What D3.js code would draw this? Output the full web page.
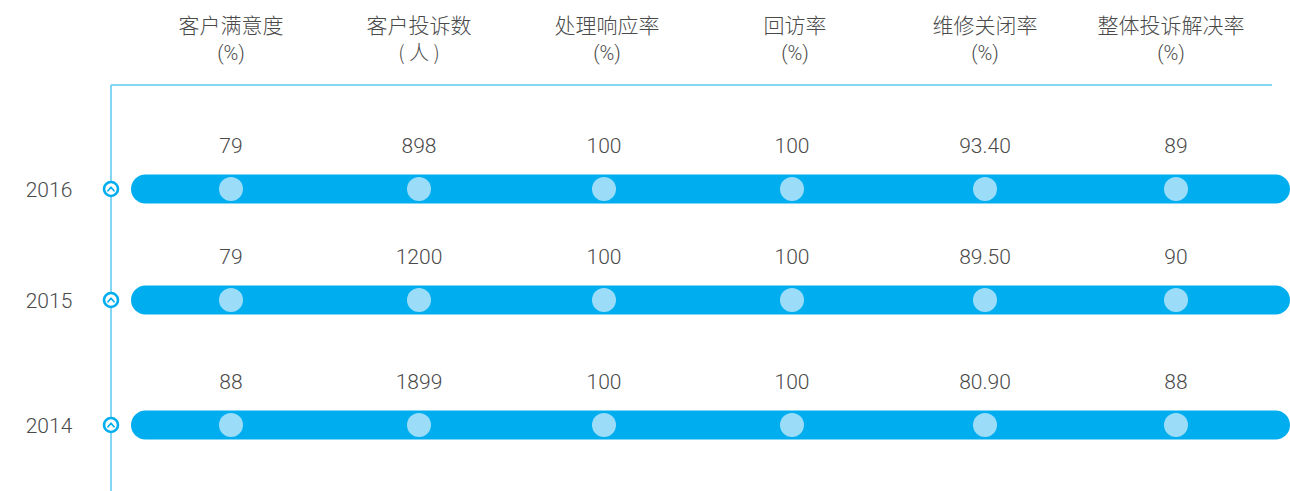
<!DOCTYPE html>
<html>
<head>
<meta charset="utf-8">
<script src="https://cdn.jsdelivr.net/npm/d3@7"></script>
<style>
  html, body { margin: 0; padding: 0; background: #fff; }
  svg { display: block; }
  text { font-family: Roboto, "Noto Sans CJK SC", sans-serif; font-weight: 300; fill: #4a4a4a; }
  text.cjk { font-family: "Noto Sans CJK SC", sans-serif; }
</style>
</head>
<body>
<svg id="chart" width="1290" height="491"></svg>
<script>
// Service indicators per year
const metrics = ["客户满意度", "客户投诉数", "处理响应率", "回访率", "维修关闭率", "整体投诉解决率"];
const units = ["(%)", "( 人 )", "(%)", "(%)", "(%)", "(%)"];
const years = ["2016", "2015", "2014"];
const values2016 = ["79", "898", "100", "100", "93.40", "89"];
const values2015 = ["79", "1200", "100", "100", "89.50", "90"];
const values2014 = ["88", "1899", "100", "100", "80.90", "88"];
const valuesByYear = [values2016, values2015, values2014];

const W = 1290, H = 491;
const blue = "#00AEEF", light = "#9BDDF8", lineBlue = "#5CC8F2";
const svg = d3.select("#chart");

// Column positions for each metric
const x = d3.scaleOrdinal().domain(metrics).range([231, 419, 604, 792, 985, 1176]);
// Header columns sit a touch off the dot columns on the right
const xHead = d3.scaleOrdinal().domain(metrics).range([231, 419, 607, 795, 985, 1171]);
// Row positions for each year (rows are not evenly spaced)
const y = d3.scaleOrdinal().domain(years).range([189, 300, 425]);

const axisX = 111, headerLineY = 85;
const barLeft = 131, barRight = W, barH = 29;

// Frame lines
svg.append("line")
  .attr("x1", axisX).attr("x2", axisX)
  .attr("y1", headerLineY).attr("y2", H)
  .attr("stroke", lineBlue).attr("stroke-width", 1.5);
svg.append("line")
  .attr("x1", axisX).attr("x2", 1272)
  .attr("y1", headerLineY).attr("y2", headerLineY)
  .attr("stroke", lineBlue).attr("stroke-width", 1.5);

// Column headers
const head = svg.append("g").selectAll("g").data(metrics).join("g")
  .attr("transform", d => `translate(${xHead(d)},0)`);
head.append("text").attr("class", "cjk").attr("y", 33).attr("text-anchor", "middle")
  .attr("font-size", 21).text(d => d);
head.append("text").attr("y", 60).attr("text-anchor", "middle")
  .attr("class", (d, i) => units[i].includes("人") ? "cjk" : null)
  .attr("font-size", 20).text((d, i) => units[i]);

// Rows
const rows = svg.append("g").selectAll("g").data(years).join("g")
  .attr("transform", d => `translate(0,${y(d)})`);

rows.append("rect")
  .attr("x", barLeft).attr("y", -barH / 2)
  .attr("width", barRight - barLeft).attr("height", barH)
  .attr("rx", barH / 2).attr("fill", blue);

rows.append("text")
  .attr("x", 49).attr("y", 8).attr("text-anchor", "middle")
  .attr("font-size", 21).text(d => d);

// Timeline markers
rows.append("circle")
  .attr("cx", axisX).attr("r", 7)
  .attr("fill", "#fff").attr("stroke", blue).attr("stroke-width", 2.6);
rows.append("path")
  .attr("d", `M${axisX - 3},1.8 L${axisX},-1.8 L${axisX + 3},1.8`)
  .attr("fill", "none").attr("stroke", blue).attr("stroke-width", 1.7)
  .attr("stroke-linecap", "round").attr("stroke-linejoin", "round");

// Dots and values
rows.each(function (yr, ri) {
  const g = d3.select(this);
  const vals = valuesByYear[ri];
  g.selectAll("circle.dot").data(metrics).join("circle")
    .attr("class", "dot")
    .attr("cx", d => x(d)).attr("r", 12).attr("fill", light);
  g.selectAll("text.val").data(metrics).join("text")
    .attr("class", "val")
    .attr("x", d => x(d)).attr("y", -36)
    .attr("text-anchor", "middle").attr("font-size", 21)
    .text((d, i) => vals[i]);
});
</script>
</body>
</html>
